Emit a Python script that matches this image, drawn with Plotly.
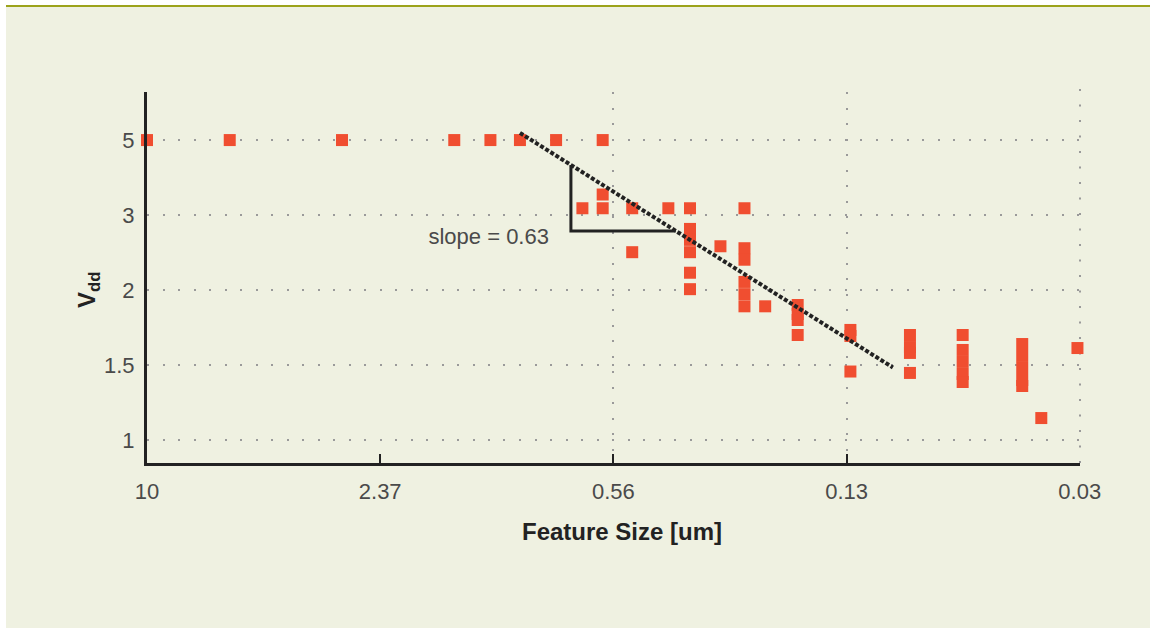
import plotly.graph_objects as go

# ---- data ----
FEATURE_SIZE = [10, 6, 3, 1.5, 1.2, 1.0, 0.8,
                0.6, 0.6, 0.6,
                0.68,
                0.5, 0.5,
                0.4,
                0.35, 0.35, 0.35, 0.35, 0.35, 0.35,
                0.29,
                0.25, 0.25, 0.25, 0.25, 0.25, 0.25,
                0.22,
                0.18, 0.18, 0.18, 0.18,
                0.13, 0.13, 0.13,
                0.09, 0.09, 0.09, 0.09,
                0.065, 0.065, 0.065, 0.065, 0.065,
                0.045, 0.045, 0.045, 0.045, 0.045,
                0.04,
                0.032]
VDD = [5.06, 5.06, 5.06, 5.06, 5.06, 5.06, 5.06,
       5.06, 3.77, 3.5,
       3.5,
       3.5, 2.76,
       3.5,
       3.5, 3.13, 2.95, 2.76, 2.47, 2.26,
       2.85,
       3.5, 2.82, 2.65, 2.35, 2.2, 2.06,
       2.06,
       2.075, 1.976, 1.913, 1.764,
       1.813, 1.755, 1.448,
       1.764, 1.653, 1.601, 1.437,
       1.764, 1.627, 1.525, 1.429, 1.368,
       1.68, 1.575, 1.476, 1.383, 1.339,
       1.126,
       1.644]

TREND_X = [1.0, 0.1]
TREND_Y = [5.26, 1.48]
TRI_X = [0.73, 0.73, 0.382]
TRI_Y = [4.42, 3.095, 3.095]
SLOPE_LABEL = "slope = 0.63"
SLOPE_POS = (0.836, 2.98)

X_TICKVALS = [10, 2.37, 0.5617, 0.1331, 0.03155]
X_TICKTEXT = ["10", "2.37", "0.56", "0.13", "0.03"]
X_GRIDVALS = [0.5617, 0.1331]
Y_TICKVALS = [1, 1.5, 2.25, 3.375, 5.0625]
Y_TICKTEXT = ["1", "1.5", "2", "3", "5"]

BG = "#EFF1E1"
RED = "#F04E30"
INK = "#222222"
GREY_TXT = "#4a4a4a"
GRID = "#9a9a9a"
GRID_DASH = "2px,13.5px"
FONT = "Liberation Sans, Arial, sans-serif"

fig = go.Figure()

fig.add_trace(go.Scatter(
    x=FEATURE_SIZE, y=VDD, mode="markers", cliponaxis=False,
    marker=dict(symbol="square", size=12, color=RED, line=dict(width=0)),
    hoverinfo="x+y", showlegend=False))

fig.add_trace(go.Scatter(
    x=TREND_X, y=TREND_Y, mode="lines",
    line=dict(color=INK, width=4, dash="4px,2px"), showlegend=False))

fig.add_trace(go.Scatter(
    x=TRI_X, y=TRI_Y, mode="lines",
    line=dict(color=INK, width=3), showlegend=False))

fig.add_trace(go.Scatter(
    x=[SLOPE_POS[0]], y=[SLOPE_POS[1]], mode="text", text=[SLOPE_LABEL],
    textposition="middle left",
    textfont=dict(family=FONT, size=22, color=GREY_TXT), showlegend=False))

L, R, T, B = 147, 70, 92, 165
W, H = 1150, 628
PW, PH = W - L - R, H - T - B

def px(xp):
    return (xp - L) / PW

def py(yp):
    return (H - B - yp) / PH

fig.update_layout(
    width=W, height=H,
    margin=dict(l=L, r=R, t=T, b=B, pad=0),
    paper_bgcolor=BG, plot_bgcolor=BG,
    font=dict(family=FONT, color=GREY_TXT),
    xaxis=dict(
        type="log", range=[1, -1.5017], autorange=False,
        tickmode="array", tickvals=X_TICKVALS, ticktext=X_TICKTEXT,
        tickfont=dict(family=FONT, size=22, color=GREY_TXT),
        ticks="inside", ticklen=9, tickwidth=2, tickcolor=INK,
        ticklabelstandoff=7,
        showline=True, linecolor=INK, linewidth=3,
        showgrid=False, zeroline=False,
        minor=dict(tickmode="array", tickvals=X_GRIDVALS, showgrid=True,
                   gridcolor=GRID, gridwidth=2, griddash=GRID_DASH,
                   ticks=""),
    ),
    yaxis=dict(
        type="log", range=[-0.054, 0.817], autorange=False,
        tickmode="array", tickvals=Y_TICKVALS, ticktext=Y_TICKTEXT,
        tickfont=dict(family=FONT, size=22, color=GREY_TXT),
        ticks="", ticklabelstandoff=5,
        showline=True, linecolor=INK, linewidth=3,
        showgrid=True, gridcolor=GRID, gridwidth=2, griddash=GRID_DASH,
        zeroline=False,
    ),
    shapes=[
        dict(type="rect", xref="paper", yref="paper", x0=px(-10), x1=px(6),
             y0=py(700), y1=py(-20), fillcolor="white", line=dict(width=0), layer="below"),
        dict(type="rect", xref="paper", yref="paper", x0=px(-10), x1=px(1200),
             y0=py(5), y1=py(-20), fillcolor="white", line=dict(width=0), layer="below"),
        dict(type="rect", xref="paper", yref="paper", x0=px(6), x1=px(1200),
             y0=py(7), y1=py(5), fillcolor="#9CA31B", line=dict(width=0), layer="below"),
        # gridline at the right end of the x axis (0.03)
        dict(type="line", xref="paper", yref="paper", x0=1, x1=1,
             y0=0, y1=py(88), line=dict(color=GRID, width=2, dash=GRID_DASH),
             layer="below"),
    ],
    annotations=[
        dict(text="<b>Feature Size [um]</b>", xref="paper", yref="paper",
             x=px(622), y=py(531), showarrow=False, xanchor="center", yanchor="middle",
             font=dict(family=FONT, size=24, color=INK)),
        dict(text="<b>V<sub>dd</sub></b>", xref="paper", yref="paper",
             x=px(88), y=py(290), showarrow=False, textangle=-90,
             xanchor="center", yanchor="middle",
             font=dict(family=FONT, size=24, color=INK)),
    ],
)

fig.write_html("out.html")
